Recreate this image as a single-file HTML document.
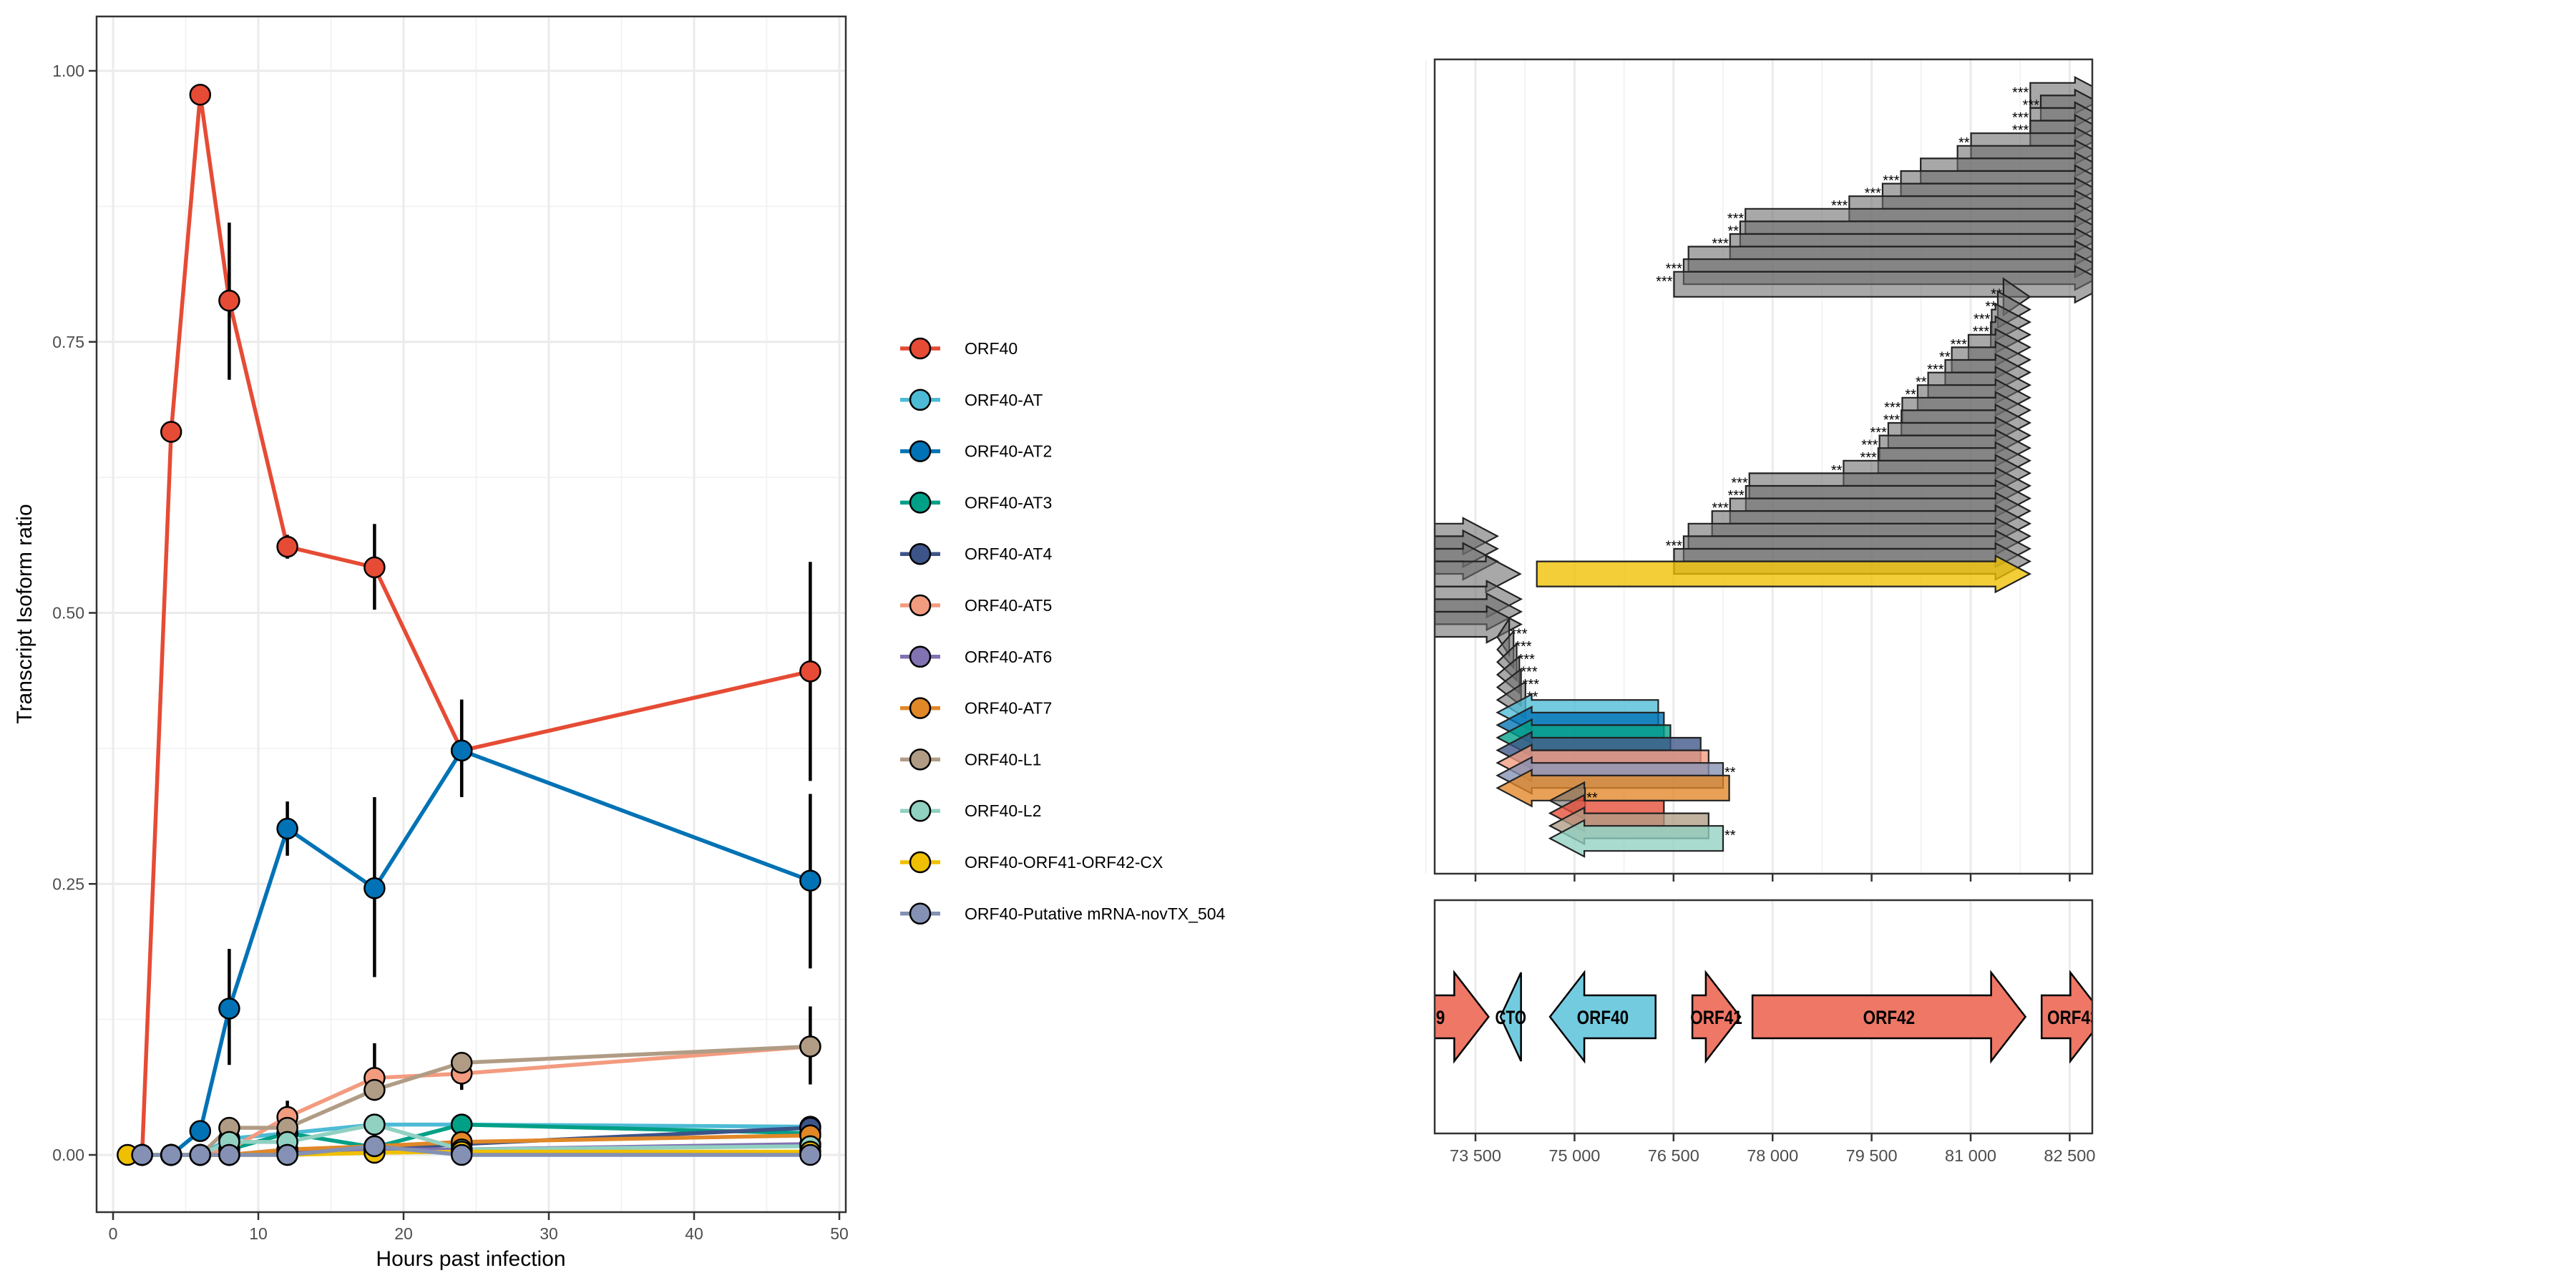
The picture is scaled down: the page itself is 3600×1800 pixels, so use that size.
<!DOCTYPE html>
<html><head><meta charset="utf-8"><style>
html,body{margin:0;padding:0;background:#fff;}
svg{display:block;font-family:"Liberation Sans",sans-serif;}
</style></head><body>
<svg id="fig" width="3600" height="1800" viewBox="0 0 3600 1800" xmlns="http://www.w3.org/2000/svg">
<defs>
<clipPath id="clipL"><rect x="135" y="23" width="1047" height="1671"/></clipPath>
<clipPath id="clipT"><rect x="2005" y="83" width="919" height="1138"/></clipPath>
<clipPath id="clipB"><rect x="2005" y="1258" width="919" height="326"/></clipPath>
</defs>
<g id="left"></g>
<g id="legend"></g>
<g id="top"></g>
<g id="bottom"></g>
</svg>
<script>
// ---------- left chart data ----------
const times = [1, 2, 4, 6, 8, 12, 18, 24, 48];
const seriesNames = ["ORF40","ORF40-AT","ORF40-AT2","ORF40-AT3","ORF40-AT4","ORF40-AT5","ORF40-AT6","ORF40-AT7","ORF40-L1","ORF40-L2","ORF40-ORF41-ORF42-CX","ORF40-Putative mRNA-novTX_504"];
const seriesColors = ["#E64B35","#4DBBD5","#0072B5","#00A087","#3C5488","#F39B7F","#8172B2","#E18727","#B09C85","#91D1C2","#EFC000","#8491B4"];
const vORF40   = [null, 0, 0.667, 0.978, 0.788, 0.561, 0.542, 0.373, 0.446];
const vAT      = [null, 0, 0, 0, 0.015, 0.02, 0.028, 0.028, 0.026];
const vAT2     = [null, 0, 0, 0.022, 0.135, 0.301, 0.246, 0.373, 0.253];
const vAT3     = [null, 0, 0, 0, 0.005, 0.02, 0.007, 0.028, 0.02];
const vAT4     = [null, 0, 0, 0, 0, 0.003, 0.005, 0.01, 0.025];
const vAT5     = [null, 0, 0, 0, 0.005, 0.035, 0.071, 0.075, 0.1];
const vAT6     = [null, 0, 0, 0, 0, 0.005, 0.005, 0.005, 0.01];
const vAT7     = [null, 0, 0, 0, 0, 0.005, 0.008, 0.012, 0.018];
const vL1      = [null, 0, 0, 0, 0.025, 0.025, 0.06, 0.085, 0.1];
const vL2      = [null, 0, 0, 0, 0.012, 0.012, 0.028, 0.005, 0.008];
const vCX      = [0, null, null, null, null, 0, 0.002, 0.003, 0.003];
const vPut     = [null, 0, 0, 0, 0, 0, 0.008, 0, 0];
const seriesValues = [vORF40, vAT, vAT2, vAT3, vAT4, vAT5, vAT6, vAT7, vL1, vL2, vCX, vPut];
const errLowORF40  = [null, null, null, null, 0.715, 0.55, 0.503, 0.33, 0.345];
const errHighORF40 = [null, null, null, null, 0.86, 0.572, 0.582, 0.42, 0.547];
const errLowAT2    = [null, null, null, null, 0.083, 0.276, 0.164, 0.33, 0.172];
const errHighAT2   = [null, null, null, null, 0.19, 0.326, 0.33, 0.42, 0.333];
const errLowAT5    = [null, null, null, null, null, 0.02, 0.05, 0.06, 0.065];
const errHighAT5   = [null, null, null, null, null, 0.05, 0.103, 0.09, 0.137];
const xTicks = [0, 10, 20, 30, 40, 50];
const yTicks = [0, 0.25, 0.5, 0.75, 1.0];
const yTickLabels = ["0.00", "0.25", "0.50", "0.75", "1.00"];

// ---------- transcript panel data ----------
const txRow   = [0,1,2,3,4,5,6,7,8,9,10,11,12,13,14,15,
  16,17,18,19,20,21,22,23,24,25,26,27,28,29,30,31,32,33,34,35,36,37,
  38, 35,36,37,38, 40,41,42, 43,44,45,46,47,48, 49,50,51,52,53,54,55, 56,57,58,59];
const txStart = [81903,82062,81903,81903,81006,80801,80243,79944,79666,79161,77588,77509,77356,76726,76653,76507,
  81497,81411,81318,81305,80967,80714,80615,80356,80197,79964,79951,79752,79619,79600,79075,77648,77595,77356,77084,76726,76653,76507,
  74429, 72500,72500,72500,72500, 72500,72500,72500, 73832,73832,73832,73832,73832,73832, 73832,73832,73832,73832,73832,73832,73832, 74628,74628,74628,74628];
const txEnd   = [83100,83100,83100,83100,83100,83100,83100,83100,83100,83100,83100,83100,83100,83100,83100,83100,
  81896,81896,81896,81896,81896,81896,81896,81896,81896,81896,81896,81896,81896,81896,81896,81896,81896,81896,81896,81896,81896,81896,
  81896, 73832,73832,73832,74177, 74190,74190,74190, 74011,74077,74124,74164,74190,74257, 76268,76354,76453,76911,77031,77250,77343, 75159,76354,77031,77250];
const txStrand = "++++++++++++++++++++++++++++++++++++++++++++++----------------------------".split("");
const txColor = ["g","g","g","g","g","g","g","g","g","g","g","g","g","g","g","g",
  "g","g","g","g","g","g","g","g","g","g","g","g","g","g","g","g","g","g","g","g","g","g",
  "#EFC000","g","g","g","g","g","g","g","g","g","g","g","g","g",
  "#4DBBD5","#0072B5","#00A087","#3C5488","#F39B7F","#8491B4","#E18727","g","#E64B35","#B09C85","#91D1C2"];
const txLabel = ["***","***","***","***","**","","","***","***","***","***","**","***","","***","***",
  "**","**","***","***","***","**","***","**","**","***","***","***","***","***","**","***","***","***","","","***","",
  "","","","","", "***","***","***", "***","***","***","***","***","**", "","","","","","**","", "**","","","**"];

// ---------- gene panel data ----------
const geneNames  = ["ORF39","CTO","ORF40","ORF41","ORF42","ORF43"];
const geneStart  = [71590, 73878, 74628, 76785, 77695, 82075];
const geneEnd    = [73699, 74190, 76228, 77509, 81830, 83030];
const geneStrand = ["+","-","-","+","+","+"];
const geneColor  = ["#EE7766","#73CBE0","#73CBE0","#EE7766","#EE7766","#EE7766"];
const bpTicks = [73500, 75000, 76500, 78000, 79500, 81000, 82500];
const bpTickLabels = ["73 500","75 000","76 500","78 000","79 500","81 000","82 500"];

const NS = "http://www.w3.org/2000/svg";
function mk(tag, attrs, parent) {
  const e = document.createElementNS(NS, tag);
  for (const k in attrs) e.setAttribute(k, attrs[k]);
  parent.appendChild(e);
  return e;
}

// ---------- left chart ----------
const L = document.getElementById("left");
const xS = t => 158 + 20.3 * t;
const yS = v => 1614 - 1515 * v;
const gridL = mk("g", {"clip-path": "url(#clipL)"}, L);


for (let t = 5; t <= 55; t += 10) mk("line", {x1: xS(t), x2: xS(t), y1: 23, y2: 1694, stroke: "#f0f0f0", "stroke-width": 1.5}, gridL);
for (let v = 0.125; v < 1.1; v += 0.25) mk("line", {x1: 135, x2: 1182, y1: yS(v), y2: yS(v), stroke: "#f0f0f0", "stroke-width": 1.5}, gridL);
xTicks.forEach(t => mk("line", {x1: xS(t), x2: xS(t), y1: 23, y2: 1694, stroke: "#ebebeb", "stroke-width": 3}, gridL));
yTicks.forEach(v => mk("line", {x1: 135, x2: 1182, y1: yS(v), y2: yS(v), stroke: "#ebebeb", "stroke-width": 3}, gridL));

const plotL = mk("g", {"clip-path": "url(#clipL)"}, L);
seriesValues.forEach((vals, si) => {
  const pts = [];
  vals.forEach((v, i) => { if (v !== null) pts.push(xS(times[i]) + "," + yS(v)); });
  const pl = mk("polyline", {points: pts.join(" "), fill: "none", stroke: seriesColors[si], "stroke-width": 5.5, "stroke-linejoin": "round"}, plotL);
  
  
});
[[errLowORF40, errHighORF40], [errLowAT2, errHighAT2], [errLowAT5, errHighAT5]].forEach(pair => {
  pair[0].forEach((lo, i) => {
    if (lo === null) return;
    const eb = mk("line", {x1: xS(times[i]), x2: xS(times[i]), y1: yS(lo), y2: yS(pair[1][i]), stroke: "#000", "stroke-width": 4.5}, plotL);
    
    
  });
});
seriesValues.forEach((vals, si) => {
  vals.forEach((v, i) => {
    if (v === null) return;
    const c = mk("circle", {cx: xS(times[i]), cy: yS(v), r: 14, fill: seriesColors[si], stroke: "#000", "stroke-width": 2.5}, plotL);
    
    
  });
});
const frameL = mk("rect", {x: 135, y: 23, width: 1047, height: 1671, fill: "none", stroke: "#333", "stroke-width": 2.5}, L);


xTicks.forEach(t => {
  mk("line", {x1: xS(t), x2: xS(t), y1: 1694, y2: 1705, stroke: "#333", "stroke-width": 2.5}, L);
  const tx = mk("text", {x: xS(t), y: 1732, "font-size": 23, fill: "#4d4d4d", "text-anchor": "middle"}, L);
  tx.textContent = t;
  
  
});
yTicks.forEach((v, i) => {
  mk("line", {x1: 124, x2: 135, y1: yS(v), y2: yS(v), stroke: "#333", "stroke-width": 2.5}, L);
  const tx = mk("text", {x: 118, y: yS(v) + 8, "font-size": 23, fill: "#4d4d4d", "text-anchor": "end"}, L);
  tx.textContent = yTickLabels[i];
  
  
});
const xt = mk("text", {x: 658, y: 1769, "font-size": 30, fill: "#000", "text-anchor": "middle"}, L);
xt.textContent = "Hours past infection";


const yt = mk("text", {x: 0, y: 0, "font-size": 30, fill: "#000", "text-anchor": "middle", transform: "translate(44,858) rotate(-90)"}, L);
yt.textContent = "Transcript Isoform ratio";



// ---------- legend ----------
const LG = document.getElementById("legend");
seriesNames.forEach((n, i) => {
  const y = 487 + 71.8 * i;
  const g = mk("g", {}, LG);
  
  
  mk("line", {x1: 1258, x2: 1314, y1: y, y2: y, stroke: seriesColors[i], "stroke-width": 5.5}, g);
  mk("circle", {cx: 1286, cy: y, r: 14, fill: seriesColors[i], stroke: "#000", "stroke-width": 2.5}, g);
  const t = mk("text", {x: 1348, y: y + 8, "font-size": 23, fill: "#000"}, g);
  t.textContent = n;
});

// ---------- transcript panel ----------
const bX = bp => 2062 + (bp - 73500) * 0.09227;
const rowTop = r => 115.8 + 17.6 * r;
const T = document.getElementById("top");
const gridT = mk("g", {}, T);


[72750, 74250, 75750, 77250, 78750, 80250, 81750].forEach(b => mk("line", {x1: bX(b), x2: bX(b), y1: 83, y2: 1221, stroke: "#f0f0f0", "stroke-width": 1.5}, gridT));
bpTicks.forEach(b => mk("line", {x1: bX(b), x2: bX(b), y1: 83, y2: 1221, stroke: "#ebebeb", "stroke-width": 3}, gridT));
const plotT = mk("g", {"clip-path": "url(#clipT)"}, T);
const HL = 48, BH = 35;
function arrowPts(x1, x2, strand, top, bh, hh) {
  const cy = top + bh / 2;
  const t1 = cy - bh / 2, b1 = cy + bh / 2, th = cy - hh / 2, bh2 = cy + hh / 2;
  if (strand === "+") {
    const hb = Math.max(x1, x2 - HL);
    return [[x1, t1], [hb, t1], [hb, th], [x2, cy], [hb, bh2], [hb, b1], [x1, b1]].map(p => p.join(",")).join(" ");
  } else {
    const hb = Math.min(x2, x1 + HL);
    return [[x2, t1], [hb, t1], [hb, th], [x1, cy], [hb, bh2], [hb, b1], [x2, b1]].map(p => p.join(",")).join(" ");
  }
}
txRow.forEach((r, i) => {
  const top = rowTop(r);
  const gray = txColor[i] === "g";
  const p = mk("polygon", {points: arrowPts(bX(txStart[i]), bX(txEnd[i]), txStrand[i], top, BH, BH * 1.45),
    fill: gray ? "#6e6e6e" : txColor[i], "fill-opacity": gray ? 0.6 : 0.78, stroke: "#222", "stroke-width": 2.2}, plotT);
  
  
  if (txLabel[i]) {
    const plus = txStrand[i] === "+";
    const t = mk("text", {x: plus ? bX(txStart[i]) - 2 : bX(txEnd[i]) + 2, y: top + 20, "font-size": 20, fill: "#000", "text-anchor": plus ? "end" : "start"}, plotT);
    t.textContent = txLabel[i];
    
    
  }
});
const frameT = mk("rect", {x: 2005, y: 83, width: 919, height: 1138, fill: "none", stroke: "#333", "stroke-width": 2.5}, T);


bpTicks.forEach(b => mk("line", {x1: bX(b), x2: bX(b), y1: 1221, y2: 1232, stroke: "#333", "stroke-width": 2.5}, T));

// ---------- gene panel ----------
const B = document.getElementById("bottom");
const gridB = mk("g", {}, B);


bpTicks.forEach(b => mk("line", {x1: bX(b), x2: bX(b), y1: 1258, y2: 1584, stroke: "#ebebeb", "stroke-width": 3}, gridB));
const plotB = mk("g", {"clip-path": "url(#clipB)"}, B);
geneNames.forEach((n, i) => {
  const x1 = bX(geneStart[i]), x2 = bX(geneEnd[i]);
  const p = mk("polygon", {points: arrowPts(x1, x2, geneStrand[i], 1391, 60, 124), fill: geneColor[i], stroke: "#000", "stroke-width": 2.5}, plotB);
  
  
  const t = mk("text", {x: (x1 + x2) / 2, y: 1431, "font-size": 27, "font-weight": "bold", fill: "#000", "text-anchor": "middle", textLength: n.length * 14.5, lengthAdjust: "spacingAndGlyphs"}, plotB);
  t.textContent = n;
  
  
});
const frameB = mk("rect", {x: 2005, y: 1258, width: 919, height: 326, fill: "none", stroke: "#333", "stroke-width": 2.5}, B);


bpTicks.forEach((b, i) => {
  mk("line", {x1: bX(b), x2: bX(b), y1: 1584, y2: 1595, stroke: "#333", "stroke-width": 2.5}, B);
  const t = mk("text", {x: bX(b), y: 1623, "font-size": 23, fill: "#4d4d4d", "text-anchor": "middle", textLength: 72, lengthAdjust: "spacingAndGlyphs"}, B);
  t.textContent = bpTickLabels[i];
  
  
});
</script>
</body></html>
